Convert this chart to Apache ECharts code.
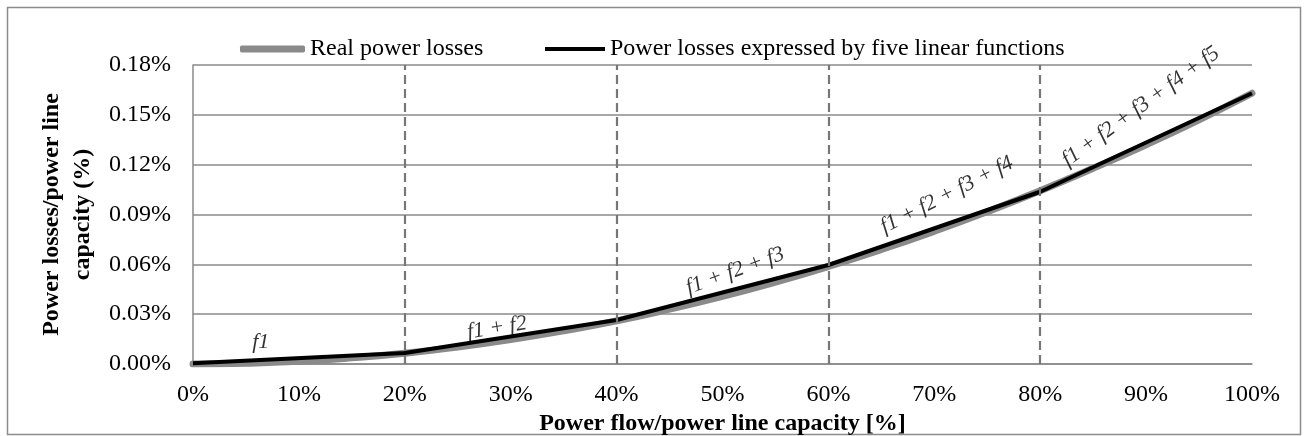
<!DOCTYPE html>
<html>
<head>
<meta charset="utf-8">
<script src="https://cdn.jsdelivr.net/npm/echarts@6/dist/echarts.min.js"></script>
<style>
html,body{margin:0;padding:0;background:#fff;}
#chart{width:1304px;height:436px;}
</style>
</head>
<body>
<div id="chart"></div>
<script>
// ---- data ----
const xRealPct = [0,5,10,15,20,25,30,35,40,45,50,55,60,65,70,75,80,85,90,95,100];
const realLosses = [0,0.0004,0.0016,0.0037,0.0065,0.0102,0.0147,0.0200,0.0260,0.0330,0.0407,0.0493,0.0587,0.0689,0.0799,0.0917,0.1043,0.1178,0.1320,0.1470,0.1630];
const xLinearPct = [0,20,40,60,80,100];
const linearLosses = [0.0004,0.0066,0.0265,0.0596,0.1037,0.1630];
const dividers = [20,40,60,80];
const annotationTexts = ['f1','f1 + f2','f1 + f2 + f3','f1 + f2 + f3 + f4','f1 + f2 + f3 + f4 + f5'];
const annotationX = [6.4,28.7,51.2,71.2,89.5];
const annotationY = [0.0133,0.0217,0.0560,0.1017,0.1550];
const annotationAngles = [0,9,20,27,36];
const seriesNames = ['Real power losses','Power losses expressed by five linear functions'];
const xTitle = 'Power flow/power line capacity [%]';
const yTitle = 'Power losses/power line\ncapacity (%)';

const FONT = '"Liberation Serif","Times New Roman",serif';
const legendText = {fontFamily:FONT, fontSize:24, color:'#000', lineHeight:24};

const chart = echarts.init(document.getElementById('chart'), null, {renderer:'canvas'});
const option = {
  animation:false,
  backgroundColor:'#fff',
  graphic:[{
    type:'rect', left:5, top:5, silent:true,
    shape:{width:1293, height:427},
    style:{fill:'none', stroke:'#8c8c8c', lineWidth:1.5}
  }],
  legend:[
    {left:240, top:32, itemWidth:65, itemHeight:7, icon:'roundRect',
     data:[seriesNames[0]], textStyle:legendText, padding:[5,0,5,0]},
    {left:545, top:32, itemWidth:60, itemHeight:4, icon:'rect',
     data:[seriesNames[1]], textStyle:legendText, padding:[5,0,5,0]}
  ],
  grid:{left:193, right:52, top:65, bottom:72, containLabel:false, outerBoundsMode:'none'},
  xAxis:{
    type:'value', min:0, max:100, interval:10,
    axisLine:{show:true, lineStyle:{color:'#8a8a8a', width:1.5}},
    axisTick:{show:false},
    splitLine:{show:false},
    axisLabel:{fontFamily:FONT, fontSize:24, color:'#000', margin:19, formatter:v=>v+'%'},
    name:xTitle, nameLocation:'middle', nameGap:36,
    nameTextStyle:{fontFamily:FONT, fontSize:24, fontWeight:'bold', color:'#000'}
  },
  yAxis:{
    type:'value', min:0, max:0.18, interval:0.03,
    axisLine:{show:true, lineStyle:{color:'#8a8a8a', width:1.5}},
    axisTick:{show:false},
    splitLine:{show:true, lineStyle:{color:'#8a8a8a', width:1.5}},
    axisLabel:{fontFamily:FONT, fontSize:24, color:'#000', margin:22, formatter:v=>v.toFixed(2)+'%'},
    name:yTitle, nameLocation:'middle', nameRotate:90, nameGap:85,
    nameTextStyle:{fontFamily:FONT, fontSize:24, fontWeight:'bold', color:'#000', lineHeight:31, align:'center'}
  },
  series:[
    {
      name:seriesNames[0], type:'line', showSymbol:false, symbol:'none', smooth:true,
      data:xRealPct.map((x,i)=>[x, realLosses[i]]),
      lineStyle:{color:'#8a8a8a', width:7, cap:'round'},
      itemStyle:{color:'#8a8a8a'},
      z:2,
      markLine:{
        silent:true, symbol:'none', label:{show:false},
        lineStyle:{color:'#777', width:2.2, type:[9,5]},
        data:dividers.map(d=>({xAxis:d}))
      }
    },
    {
      name:seriesNames[1], type:'line', showSymbol:false, symbol:'none',
      data:xLinearPct.map((x,i)=>[x, linearLosses[i]]),
      lineStyle:{color:'#000', width:4},
      itemStyle:{color:'#000'},
      z:3
    },
    {
      name:'annotations', type:'scatter', symbolSize:0, silent:true,
      data:annotationTexts.map((t,i)=>({
        value:[annotationX[i], annotationY[i]], name:t,
        label:{rotate:annotationAngles[i]}
      })),
      label:{
        show:true, position:'inside', formatter:p=>p.name,
        fontFamily:FONT, fontSize:22, fontStyle:'italic', color:'#000'
      },
      z:4
    }
  ]
};
chart.setOption(option);
</script>
</body>
</html>
